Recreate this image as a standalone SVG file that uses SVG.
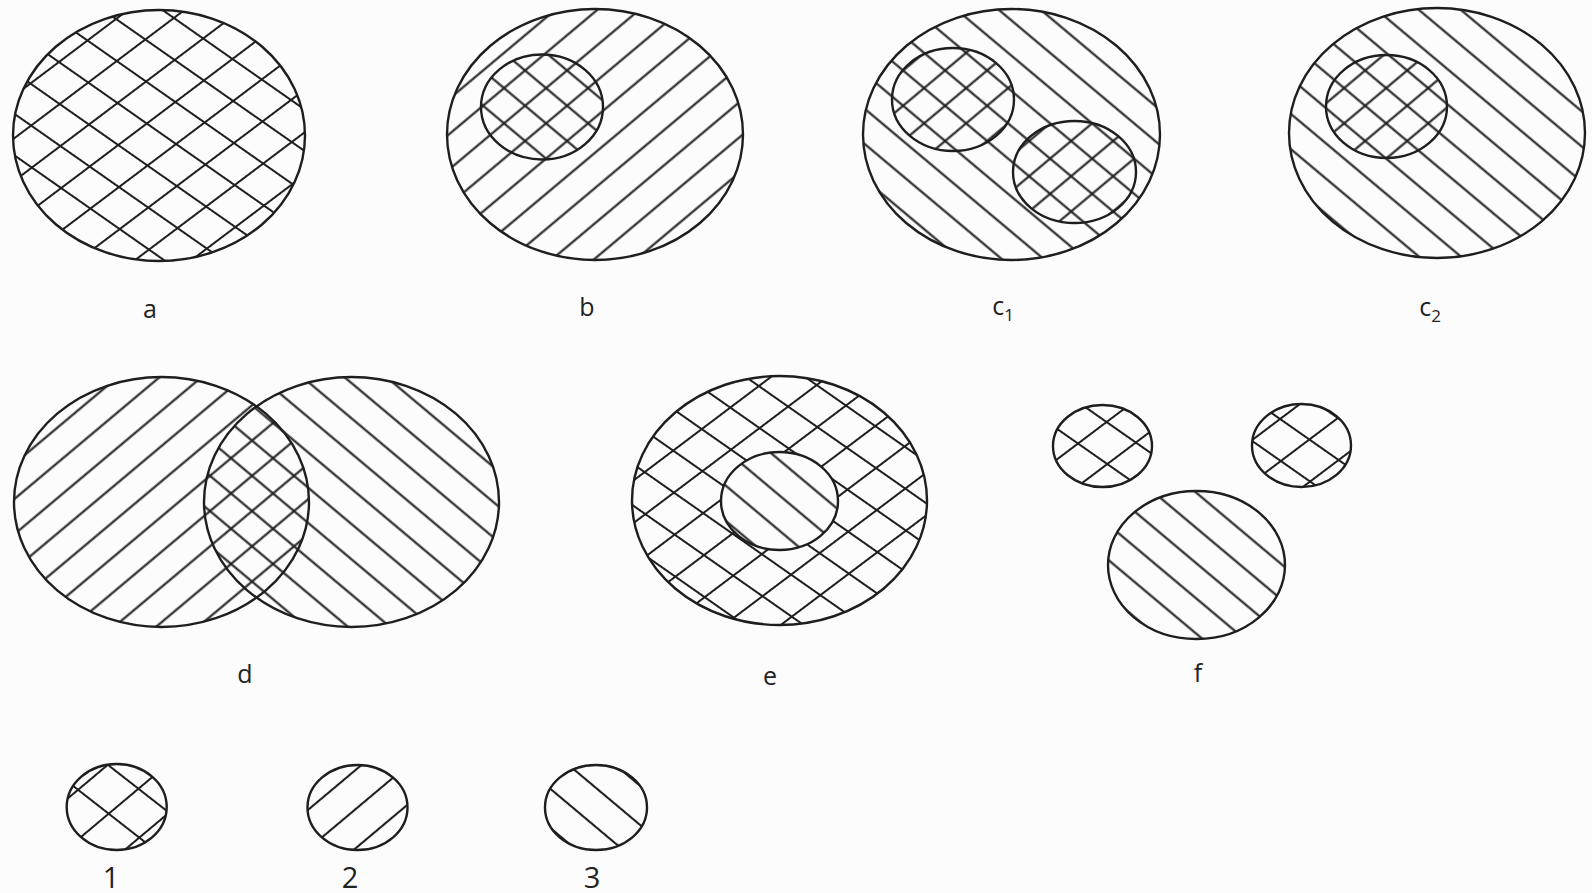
<svg xmlns="http://www.w3.org/2000/svg" width="1592" height="893" viewBox="0 0 1592 893">
<style>
.o{fill:none;stroke:#1e1e1e;stroke-width:2.4}
.h{stroke:#1e1e1e;stroke-width:2.1}
.t{font-family:"Open Sans","DejaVu Sans",sans-serif;font-size:25px;fill:#222;text-anchor:middle}
.n{font-size:29px}
</style>
<defs>
<pattern id="pR" patternUnits="userSpaceOnUse" width="27" height="27" patternTransform="rotate(-40)"><line class="h" x1="0" y1="13.5" x2="27" y2="13.5"/></pattern>
<pattern id="pL" patternUnits="userSpaceOnUse" width="27" height="27" patternTransform="rotate(40)"><line class="h" x1="0" y1="13.5" x2="27" y2="13.5"/></pattern>
<pattern id="xR" patternUnits="userSpaceOnUse" width="34" height="34" patternTransform="rotate(-37)"><line class="h" x1="0" y1="17" x2="34" y2="17"/></pattern>
<pattern id="xL" patternUnits="userSpaceOnUse" width="34" height="34" patternTransform="rotate(35)"><line class="h" x1="0" y1="17" x2="34" y2="17"/></pattern>
<pattern id="lxR" patternUnits="userSpaceOnUse" width="38" height="38" patternTransform="rotate(-40) translate(0,-9.8)"><line class="h" x1="0" y1="19" x2="38" y2="19"/></pattern>
<pattern id="lxL" patternUnits="userSpaceOnUse" width="38" height="38" patternTransform="rotate(38) translate(0,-14.7)"><line class="h" x1="0" y1="19" x2="38" y2="19"/></pattern>
<pattern id="lR" patternUnits="userSpaceOnUse" width="30" height="30" patternTransform="rotate(-40) translate(0,-6.6)"><line class="h" x1="0" y1="15" x2="30" y2="15"/></pattern>
<pattern id="lL" patternUnits="userSpaceOnUse" width="30" height="30" patternTransform="rotate(40) translate(0,-4.5)"><line class="h" x1="0" y1="15" x2="30" y2="15"/></pattern>
</defs>
<rect width="1592" height="893" fill="#fcfcfc"/>

<g id="fig-a">
<ellipse cx="159" cy="135.5" rx="146" ry="125.5" fill="url(#xR)"/>
<ellipse cx="159" cy="135.5" rx="146" ry="125.5" fill="url(#xL)"/>
<ellipse class="o" cx="159" cy="135.5" rx="146" ry="125.5"/>
<text class="t" x="150" y="318">a</text>
</g>

<g id="fig-b">
<ellipse cx="595" cy="134.5" rx="148" ry="125.5" fill="url(#pR)"/>
<ellipse cx="542" cy="107" rx="61" ry="52.5" fill="url(#pL)"/>
<ellipse class="o" cx="595" cy="134.5" rx="148" ry="125.5"/>
<ellipse class="o" cx="542" cy="107" rx="61" ry="52.5"/>
<text class="t" x="587" y="316">b</text>
</g>

<g id="fig-c1">
<ellipse cx="1011.5" cy="134.5" rx="148.5" ry="125.5" fill="url(#pL)"/>
<ellipse cx="953" cy="99.5" rx="61" ry="51.5" fill="url(#pR)"/>
<ellipse cx="1074.5" cy="172" rx="61.5" ry="51" fill="url(#pR)"/>
<ellipse class="o" cx="1011.5" cy="134.5" rx="148.5" ry="125.5"/>
<ellipse class="o" cx="953" cy="99.5" rx="61" ry="51.5"/>
<ellipse class="o" cx="1074.5" cy="172" rx="61.5" ry="51"/>
<text class="t" x="1003" y="315">c<tspan font-size="17" dy="6">1</tspan></text>
</g>

<g id="fig-c2">
<ellipse cx="1437" cy="133" rx="148" ry="125" fill="url(#pL)"/>
<ellipse cx="1386.5" cy="106.5" rx="60.5" ry="51.5" fill="url(#pR)"/>
<ellipse class="o" cx="1437" cy="133" rx="148" ry="125"/>
<ellipse class="o" cx="1386.5" cy="106.5" rx="60.5" ry="51.5"/>
<text class="t" x="1430" y="316">c<tspan font-size="17" dy="6">2</tspan></text>
</g>

<g id="fig-d">
<ellipse cx="161.5" cy="502" rx="147.5" ry="125" fill="url(#pR)"/>
<ellipse cx="351.5" cy="502" rx="147.5" ry="125" fill="url(#pL)"/>
<ellipse class="o" cx="161.5" cy="502" rx="147.5" ry="125"/>
<ellipse class="o" cx="351.5" cy="502" rx="147.5" ry="125"/>
<text class="t" x="245" y="683">d</text>
</g>

<g id="fig-e">
<ellipse cx="779.5" cy="500.5" rx="147.5" ry="124.5" fill="url(#xR)"/>
<ellipse cx="779.5" cy="500.5" rx="147.5" ry="124.5" fill="url(#xL)"/>
<ellipse cx="779.5" cy="501" rx="58.5" ry="49" fill="#fcfcfc"/>
<ellipse cx="779.5" cy="501" rx="58.5" ry="49" fill="url(#pL)"/>
<ellipse class="o" cx="779.5" cy="500.5" rx="147.5" ry="124.5"/>
<ellipse class="o" cx="779.5" cy="501" rx="58.5" ry="49"/>
<text class="t" x="770" y="685">e</text>
</g>

<g id="fig-f">
<ellipse cx="1102.5" cy="446" rx="49.5" ry="41" fill="url(#xR)"/>
<ellipse cx="1102.5" cy="446" rx="49.5" ry="41" fill="url(#xL)"/>
<ellipse class="o" cx="1102.5" cy="446" rx="49.5" ry="41"/>
<ellipse cx="1301.5" cy="445.5" rx="49.5" ry="41.5" fill="url(#xR)"/>
<ellipse cx="1301.5" cy="445.5" rx="49.5" ry="41.5" fill="url(#xL)"/>
<ellipse class="o" cx="1301.5" cy="445.5" rx="49.5" ry="41.5"/>
<ellipse cx="1196.5" cy="565" rx="88.5" ry="74" fill="url(#pL)"/>
<ellipse class="o" cx="1196.5" cy="565" rx="88.5" ry="74"/>
<text class="t" x="1198" y="682">f</text>
</g>

<g id="legend-1">
<ellipse cx="116.7" cy="807" rx="50" ry="43" fill="url(#lxR)"/>
<ellipse cx="116.7" cy="807" rx="50" ry="43" fill="url(#lxL)"/>
<ellipse class="o" cx="116.7" cy="807" rx="50" ry="43"/>
<text class="t n" x="111" y="888">1</text>
</g>

<g id="legend-2">
<ellipse cx="357.5" cy="807.5" rx="50" ry="42.5" fill="url(#lR)"/>
<ellipse class="o" cx="357.5" cy="807.5" rx="50" ry="42.5"/>
<text class="t n" x="350" y="888">2</text>
</g>

<g id="legend-3">
<ellipse cx="596" cy="807.5" rx="51" ry="42.5" fill="url(#lL)"/>
<ellipse class="o" cx="596" cy="807.5" rx="51" ry="42.5"/>
<text class="t n" x="592" y="888">3</text>
</g>

<g id="connectors"/>
</svg>
